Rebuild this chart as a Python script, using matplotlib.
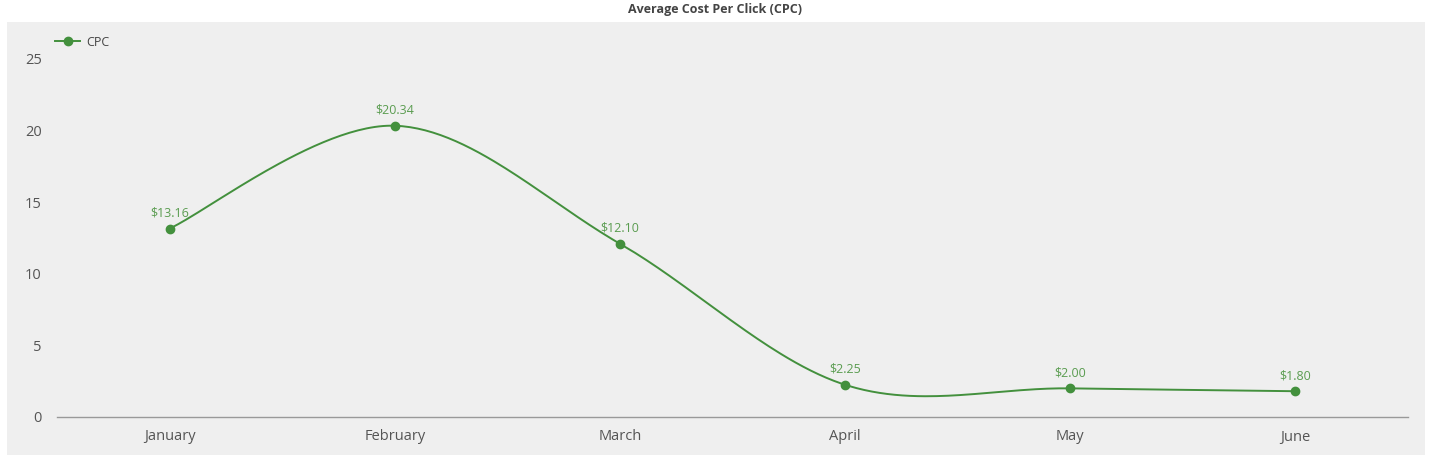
import numpy as np
import matplotlib.pyplot as plt
from matplotlib.patches import Rectangle

months = ["January", "February", "March", "April", "May", "June"]
cpc = [13.16, 20.34, 12.10, 2.25, 2.00, 1.80]
yticks = [0, 5, 10, 15, 20, 25]

green = "#43903d"
label_green = "#5a9c50"
text_grey = "#555555"

plt.rcParams['font.family'] = ['Open Sans', 'DejaVu Sans']


def catmull_rom(xs, ys, n=60):
  # uniform catmull-rom through the points, ends duplicated
  xs = np.asarray(xs, float)
  ys = np.asarray(ys, float)
  px = np.concatenate([[xs[0]], xs, [xs[-1]]])
  py = np.concatenate([[ys[0]], ys, [ys[-1]]])
  out_x, out_y = [], []
  for i in range(1, len(px) - 2):
    t = np.linspace(0, 1, n)
    h00 = 2*t**3 - 3*t**2 + 1
    h10 = t**3 - 2*t**2 + t
    h01 = -2*t**3 + 3*t**2
    h11 = t**3 - t**2
    mx0 = (px[i+1] - px[i-1]) / 2
    mx1 = (px[i+2] - px[i]) / 2
    my0 = (py[i+1] - py[i-1]) / 2
    my1 = (py[i+2] - py[i]) / 2
    out_x.append(h00*px[i] + h10*mx0 + h01*px[i+1] + h11*mx1)
    out_y.append(h00*py[i] + h10*my0 + h01*py[i+1] + h11*my1)
  return np.concatenate(out_x), np.concatenate(out_y)


fig = plt.figure(figsize=(14.36, 4.66), dpi=100)
fig.patches.append(Rectangle((7/1436, 1 - 455/466), 1418/1436, 433/466,
                             transform=fig.transFigure, facecolor="#efefef",
                             edgecolor="none", zorder=-10))

ax = fig.add_axes([57/1436, 1 - 417/466, 1351/1436, 377/466])
ax.set_facecolor("none")
ax.set_zorder(5)

x = np.arange(len(months))
sx, sy = catmull_rom(x, cpc)
ax.plot(sx, sy, color=green, lw=1.4, zorder=3)
ax.plot(x, cpc, 'o', color=green, ms=6, zorder=4)
ax.plot([], [], '-o', color=green, lw=1.4, ms=6, label="CPC")

for xi, v in zip(x, cpc):
  ax.annotate("${:.2f}".format(v), (xi, v), xytext=(0, 6.5), textcoords="offset points",
              ha="center", va="bottom", fontsize=9, color=label_green)

ax.set_xlim(-0.5, len(months) - 0.5)
ax.set_ylim(0, 25 + (59 - 40) / 14.32)
ax.set_xticks(x)
ax.set_xticklabels(months)
ax.set_yticks(yticks)
ax.tick_params(axis='both', length=0, labelsize=10.5, colors=text_grey)
ax.tick_params(axis='y', pad=11)
ax.tick_params(axis='x', pad=9)
for s in ["top", "right", "left"]:
  ax.spines[s].set_visible(False)
ax.spines["bottom"].set_color("#999999")
ax.spines["bottom"].set_linewidth(1)

ax.legend(loc="upper left", bbox_to_anchor=(-0.006, 1.028), frameon=False, fontsize=9,
          handlelength=2.0, handletextpad=0.5, labelcolor="#444444", borderaxespad=0.1)

fig.text(715/1436, 1 - 9/466, "Average Cost Per Click (CPC)", ha="center", va="center",
         fontsize=9, fontweight="bold", color="#444444")

fig.savefig("out.png", dpi=100)
